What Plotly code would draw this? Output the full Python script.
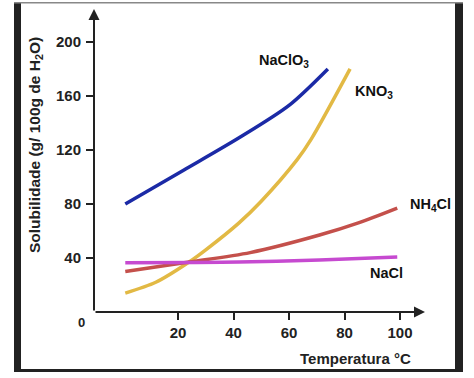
import plotly.graph_objects as go

# ---- data ----
naclo3_t = [1, 22, 42, 60, 74]
naclo3_v = [80, 105, 129, 153, 180]

kno3_t = [1, 12, 24, 30, 42, 50, 63, 68, 82]
kno3_v = [14, 22, 37, 46, 66, 82, 113, 128, 180]

nh4cl_t = [1, 24, 46, 71, 85, 99]
nh4cl_v = [30, 37, 44, 57, 66, 77]

nacl_t = [1, 42, 71, 99]
nacl_v = [36.5, 37, 38.5, 40.7]

x_ticks = [20, 40, 60, 80, 100]
y_ticks = [40, 80, 120, 160, 200]

series_names = ["NaClO<sub>3</sub>", "KNO<sub>3</sub>", "NH<sub>4</sub>Cl", "NaCl"]
series_colors = ["#1b2aa6", "#e2b944", "#c4504b", "#c64ad0"]

W, H = 474, 378
L, R, T, B = 94, 49, 9, 66
XR = [-10.27, 109.0]
YR = [0, 224.4]

FONT = "Liberation Sans, Arial, sans-serif"

def px(x):
    return (x - L) / (W - L - R)

def py(y):
    return (H - B - y) / (H - T - B)

fig = go.Figure()
for (t, v), c in zip([(naclo3_t, naclo3_v), (kno3_t, kno3_v), (nh4cl_t, nh4cl_v), (nacl_t, nacl_v)], series_colors):
    fig.add_trace(go.Scatter(x=t, y=v, mode="lines",
                             line=dict(color=c, width=3.5, shape="spline", smoothing=0.8),
                             hoverinfo="skip", showlegend=False))

fig.update_layout(
    width=W, height=H,
    margin=dict(l=L, r=R, t=T, b=B, pad=0),
    paper_bgcolor="white", plot_bgcolor="white",
    font=dict(family=FONT, color="#222"),
    showlegend=False,
    xaxis=dict(range=XR, tickvals=x_ticks, ticktext=[f"<b>{v}</b>" for v in x_ticks],
               ticks="outside", ticklen=7, tickwidth=2, tickcolor="#222",
               showline=False, zeroline=False, showgrid=False,
               tickfont=dict(size=15, family=FONT, color="#222"), fixedrange=True),
    yaxis=dict(range=YR, tickvals=y_ticks, ticktext=[f"<b>{v}</b>" for v in y_ticks],
               ticks="outside", ticklen=7, tickwidth=2, tickcolor="#222",
               showline=False, zeroline=False, showgrid=False,
               tickfont=dict(size=15, family=FONT, color="#222"), fixedrange=True,
               ticklabelstandoff=2),
)

# axes with arrows
fig.add_annotation(x=XR[0], y=YR[1], ax=XR[0], ay=0, xref="x", yref="y", axref="x", ayref="y",
                   showarrow=True, arrowhead=2, arrowsize=1.1, arrowwidth=2, arrowcolor="#222", text="")
fig.add_annotation(x=XR[1], y=0, ax=XR[0], ay=0, xref="x", yref="y", axref="x", ayref="y",
                   showarrow=True, arrowhead=2, arrowsize=1.1, arrowwidth=2, arrowcolor="#222", text="")

# origin label
fig.add_annotation(x=px(81), y=py(322), xref="paper", yref="paper", text="<b>0</b>", showarrow=False,
                   font=dict(size=13, family=FONT, color="#222"), xanchor="center", yanchor="middle")

# axis titles
fig.add_annotation(x=px(35), y=py(145), xref="paper", yref="paper",
                   text="<b>Solubilidade (g/ 100g de H<sub>2</sub>O)</b>", showarrow=False, textangle=-90,
                   font=dict(size=15.5, family=FONT, color="#222"), xanchor="center", yanchor="middle")
fig.add_annotation(x=px(413), y=py(358), xref="paper", yref="paper",
                   text="<b>Temperatura °C</b>", showarrow=False,
                   font=dict(size=15, family=FONT, color="#222"), xanchor="right", yanchor="middle")

# series labels
label_pos = [(48.5, 186), (83, 163), (102.9, 79), (88.5, 29)]
for name, (lx, ly) in zip(series_names, label_pos):
    fig.add_annotation(x=lx, y=ly, xref="x", yref="y", text=f"<b>{name}</b>", showarrow=False,
                       font=dict(size=14.5, family=FONT, color="#111"), xanchor="left", yanchor="middle")

# frame
frame = [
    (14, 2, 21, 372, "#222"),
    (455, 2, 463, 372, "#222"),
    (14, 369, 463, 372, "#222"),
    (14, 2, 463, 3.5, "#888"),
]
for x0, y0, x1, y1, col in frame:
    fig.add_shape(type="rect", xref="paper", yref="paper", x0=px(x0), x1=px(x1), y0=py(y1), y1=py(y0),
                  fillcolor=col, line=dict(width=0), layer="above")

fig.write_html("out.html", config={"displayModeBar": False},
               post_script="document.body.style.margin='0';document.body.style.overflow='hidden';")
